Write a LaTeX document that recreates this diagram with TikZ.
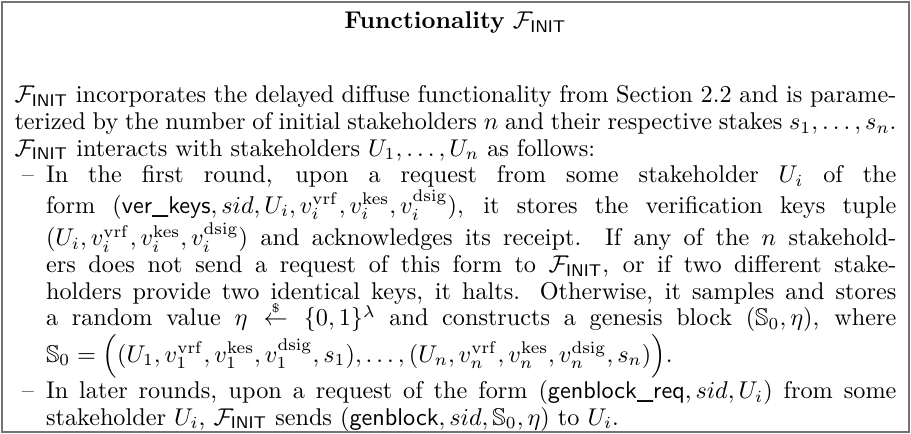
\documentclass[tikz,border=0pt]{standalone}
\usepackage{amssymb}
\usepackage{amsmath}
\usepackage{tikz}
\usetikzlibrary{positioning}

\newcommand{\Finit}{\mathcal{F}_{\mathsf{INIT}}}
\newcommand{\vkey}[2]{v_{#1}^{\mathrm{#2}}}
\newcommand{\cmd}[1]{\textsf{#1}}

\begin{document}
\begin{tikzpicture}[x=1pt, y=1pt,
    frame/.style={draw=black!55, line width=0.7pt},
    bodytext/.style={text width=364pt, align=justify, inner sep=0pt,
      font=\fontsize{10}{11}\selectfont}]
    \useasboundingbox (0,0) rectangle (376,-179.1);
    \draw[frame] (0.9,-0.9) rectangle (375.1,-178.2);
    % title and body of the box
    \node[inner sep=0pt] (title) at (188,-9.5) {\textbf{Functionality} $\Finit$};
    \node[bodytext, below=21pt of title] (body) {%
      $\Finit$ incorporates the delayed diffuse functionality from Section~2.2 and is parame-\linebreak
      terized by the number of initial stakeholders $n$ and their respective stakes $s_1,\ldots,s_n$.\linebreak
      $\Finit$ interacts with stakeholders $U_1,\ldots,U_n$ as follows:
      \begin{list}{--}{\leftmargin=13pt \labelwidth=8pt \labelsep=5pt
          \topsep=0pt \partopsep=0pt \parsep=0pt \itemsep=0pt}
      \item In the first round, upon a request from some stakeholder $U_i$ of the\linebreak
        form $(\cmd{ver\_keys},sid,U_i,\vkey{i}{vrf},\vkey{i}{kes},\vkey{i}{dsig})$, it stores the verification keys tuple\linebreak
        $(U_i,\vkey{i}{vrf},\vkey{i}{kes},\vkey{i}{dsig})$ and acknowledges its receipt. If any of the $n$ stakehold-\linebreak
        ers does not send a request of this form to $\Finit$, or if two different stake-\linebreak
        holders provide two identical keys, it halts. Otherwise, it samples and stores\linebreak
        a random value $\eta \mathrel{\smash{\overset{\scriptscriptstyle\$}{\leftarrow}}} \{0,1\}^\lambda$ and constructs a genesis block $(\mathbb{S}_0,\eta)$, where\linebreak
        $\mathbb{S}_0=\Bigl((U_1,\vkey{1}{vrf},\vkey{1}{kes},\vkey{1}{dsig},s_1),\ldots,(U_n,\vkey{n}{vrf},\vkey{n}{kes},\vkey{n}{dsig},s_n)\Bigr)$.
      \item In later rounds, upon a request of the form $(\cmd{genblock\_req},sid,U_i)$ from some\linebreak
        stakeholder $U_i$, $\Finit$ sends $(\cmd{genblock},sid,\mathbb{S}_0,\eta)$ to $U_i$.
      \end{list}};
\end{tikzpicture}
\end{document}
